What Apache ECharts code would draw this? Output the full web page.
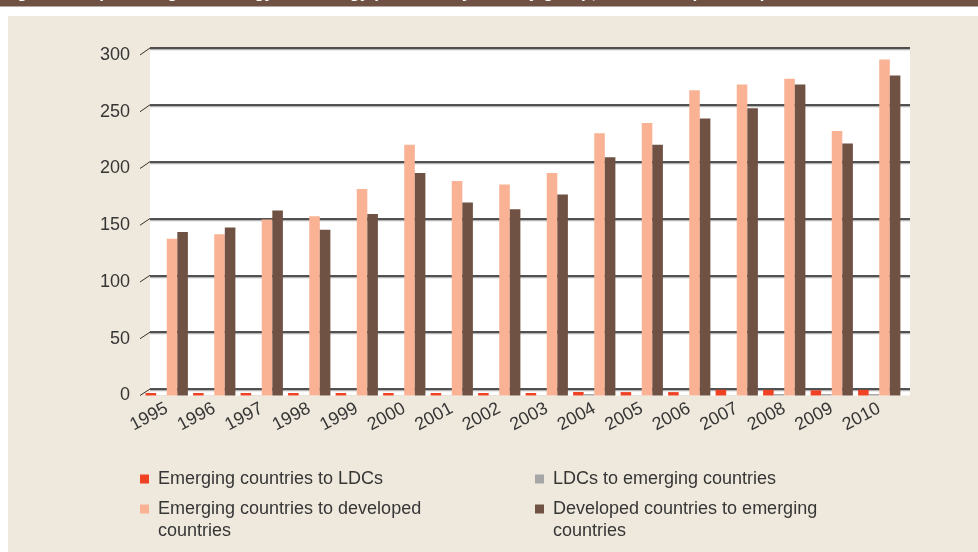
<!DOCTYPE html>
<html>
<head>
<meta charset="utf-8">
<script src="https://cdn.jsdelivr.net/npm/echarts@6/dist/echarts.min.js"></script>
<style>
  html, body { margin: 0; padding: 0; background: #ffffff; }
  #chart { width: 978px; height: 552px; }
</style>
</head>
<body>
<div id="chart"></div>
<script>
// Exports of green technology by country group, 1995–2010 ($ billion)
const years = ['1995','1996','1997','1998','1999','2000','2001','2002','2003','2004','2005','2006','2007','2008','2009','2010'];
const emergingToLDCs       = [2.2, 2.2, 2.2, 2.2, 2.2, 2.2, 2.2, 2.2, 2.2, 3.1, 3, 3, 5.1, 5, 4.6, 5];
const ldcsToEmerging       = [0.2, 0.2, 0.2, 0.2, 0.2, 0.2, 0.2, 0.2, 0.2, 1.3, 0.2, 0.2, 0.2, 1.3, 1.3, 1.3];
const emergingToDeveloped  = [138, 142, 155, 158, 182, 221, 189, 186, 196, 231, 240, 269, 274, 279, 233, 296];
const developedToEmerging  = [144, 148, 163, 146, 160, 196, 170, 164, 177, 210, 221, 244, 253, 274, 222, 282];
const yTicks = [0, 50, 100, 150, 200, 250, 300];

const names = [
  'Emerging countries to LDCs',
  'LDCs to emerging countries',
  'Emerging countries to developed countries',
  'Developed countries to emerging countries'
];
const colors = ['#ef4123', '#a6a6a6', '#f9b294', '#6f5244'];

const FONT = '"Liberation Sans", Arial, sans-serif';
const TEXT = '#363636';

const chart = echarts.init(document.getElementById('chart'), null, { renderer: 'canvas' });

function legendBlock(i, left, top, label) {
  return {
    data: [names[i]],
    left: left, top: top,
    orient: 'vertical',
    icon: 'rect',
    itemWidth: 9, itemHeight: 9,
    selectedMode: false,
    formatter: () => label,
    textStyle: { fontFamily: FONT, fontSize: 18, color: TEXT, lineHeight: 22, padding: [0, 0, 0, 4] }
  };
}

const option = {
  backgroundColor: '#ffffff',
  animation: false,
  grid: [
    // front plane: bars and value labels
    { left: 143, right: 75, top: 55, bottom: 156.5 },
    // back wall: gridlines
    { left: 150, right: 68, top: 48, bottom: 163 }
  ],
  xAxis: [
    {
      type: 'category', gridIndex: 0, data: years,
      axisLine: { show: false }, axisTick: { show: false },
      axisLabel: { interval: 0, rotate: 28, margin: 12, fontFamily: FONT, fontSize: 18, color: TEXT }
    },
    {
      type: 'category', gridIndex: 1, data: years,
      axisLine: { show: false }, axisTick: { show: false }, axisLabel: { show: false }
    }
  ],
  yAxis: [
    {
      type: 'value', gridIndex: 0, min: 0, max: 300, interval: 50,
      axisLine: { show: false }, axisTick: { show: false }, splitLine: { show: false },
      axisLabel: { margin: 13, fontFamily: FONT, fontSize: 18, color: TEXT }
    },
    {
      type: 'value', gridIndex: 1, min: 0, max: 300, interval: 50,
      axisLine: { show: false }, axisTick: { show: false }, axisLabel: { show: false },
      splitLine: { show: true, lineStyle: { color: '#1a1a1a', width: 1.5, shadowColor: '#b5b5b5', shadowOffsetY: 1.5, shadowBlur: 0 } }
    }
  ],
  legend: [
    legendBlock(0, 135, 463, 'Emerging countries to LDCs'),
    legendBlock(2, 135, 493, 'Emerging countries to developed'),
    legendBlock(1, 530, 463, 'LDCs to emerging countries'),
    legendBlock(3, 530, 493, 'Developed countries to emerging')
  ],
  series: [
    { name: names[0], data: emergingToLDCs },
    { name: names[1], data: ldcsToEmerging },
    { name: names[2], data: emergingToDeveloped },
    { name: names[3], data: developedToEmerging }
  ].map((s, i) => Object.assign({
    type: 'bar', xAxisIndex: 0, yAxisIndex: 0,
    barGap: '0%', barCategoryGap: '11%',
    itemStyle: { color: colors[i] },
    z: 3
  }, s))
};

chart.setOption(option);

// Frame, banner, plot wall and the slanted depth ticks of the value axis
function decorations() {
  const els = [
    { type: 'rect', z: -20, shape: { x: 0, y: 0, width: 978, height: 6.5 }, style: { fill: '#6f5244' } },
    { type: 'text', z: -19, style: { x: 2, y: -7, text: 'Figure 2: Exports of green energy technology products by country group, 1995–2010 ($ billion)', fill: '#ffffff', font: 'bold 17px ' + FONT, verticalAlign: 'middle' } },
    { type: 'rect', z: -20, shape: { x: 8, y: 16, width: 970, height: 536 }, style: { fill: '#efe8dc' } }
  ];
  const wallTop = chart.convertToPixel({ yAxisIndex: 1 }, 300);
  const floorFront = chart.convertToPixel({ yAxisIndex: 0 }, 0);
  const wallLeft = chart.convertToPixel({ xAxisIndex: 1 }, years[0]) - 23.75;
  const wallRight = chart.convertToPixel({ xAxisIndex: 1 }, years[years.length - 1]) + 23.75;
  els.push({ type: 'rect', z: -18, shape: { x: wallLeft, y: wallTop, width: wallRight - wallLeft, height: floorFront - wallTop }, style: { fill: '#ffffff' } });
  yTicks.forEach(v => {
    const yf = chart.convertToPixel({ yAxisIndex: 0 }, v);
    const yb = chart.convertToPixel({ yAxisIndex: 1 }, v);
    els.push({ type: 'line', z: 5, shape: { x1: wallLeft - 10, y1: yf, x2: wallLeft, y2: yb }, style: { stroke: '#333333', lineWidth: 1 } });
  });
  // second lines of the wrapped legend labels
  els.push({ type: 'text', z: 5, style: { x: 158, y: 531, text: 'countries', fill: TEXT, font: '18px ' + FONT, verticalAlign: 'middle' } });
  els.push({ type: 'text', z: 5, style: { x: 553, y: 531, text: 'countries', fill: TEXT, font: '18px ' + FONT, verticalAlign: 'middle' } });
  chart.setOption({ graphic: { elements: els } });
}
decorations();
</script>
</body>
</html>
